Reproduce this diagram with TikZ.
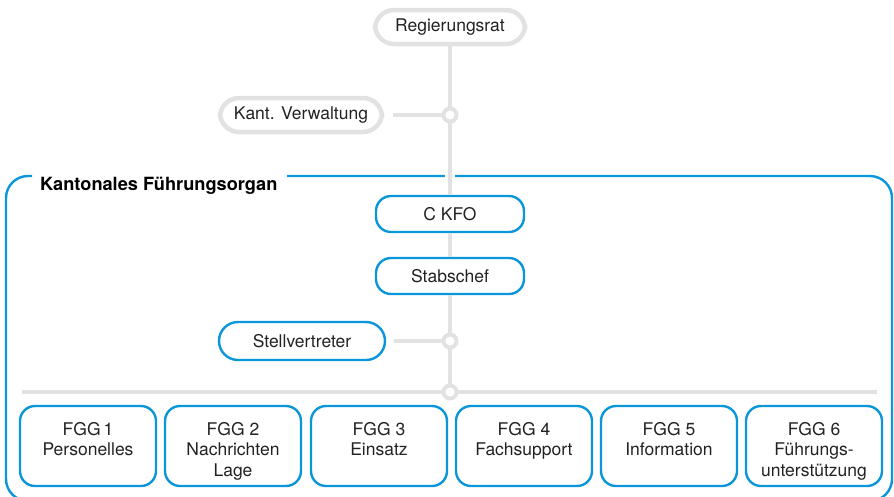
\documentclass[tikz,border=0pt]{standalone}
\usepackage{fontspec}
\setmainfont{TeX Gyre Heros}
\definecolor{kblue}{HTML}{0A96D8}
\definecolor{kgray}{HTML}{E2E2E2}
\definecolor{ktext}{HTML}{222222}
\begin{document}
\begin{tikzpicture}[x=1pt,y=-1pt,
  graypill/.style={draw=kgray,line width=4.5pt,fill=white,rounded corners=19pt,minimum height=34pt,inner sep=0pt,text=ktext,font=\fontsize{17.5}{20}\selectfont},
  bluepill/.style={draw=kblue,line width=2.4pt,fill=white,rounded corners=17pt,minimum height=36pt,inner sep=0pt,text=ktext,font=\fontsize{17.5}{20}\selectfont},
  fggbox/.style={draw=kblue,line width=2.4pt,fill=white,rounded corners=15pt,minimum width=136pt,minimum height=80pt,inner sep=0pt},
  gline/.style={draw=kgray,line width=4.5pt},
  hub/.style={circle,draw=kgray,line width=4pt,fill=white,minimum size=13pt,inner sep=0pt},
  title/.style={font=\bfseries\fontsize{18.2}{20}\selectfont,text=black,inner sep=0pt,anchor=west},
  fggtext/.style={anchor=north,align=center,text=ktext,inner sep=0pt,font=\fontsize{17.5}{20.5}\selectfont}]
\useasboundingbox (0,0) rectangle (894,496);
% frame
\draw[kblue,line width=2.4pt,rounded corners=22pt] (32,176) -- (6,176) -- (6,501) -- (892,501) -- (892,176) -- (287,176);
\node[title] (kfo) at (40,186) {Kantonales Führungsorgan};
% coordinates
\coordinate (h1) at (450,115);
\coordinate (h2) at (450,341);
\coordinate (h3) at (450,392);
\coordinate (bl) at (22,392);
\coordinate (br) at (877,392);
% white gap at crossing
\draw[white,line width=10pt] (450,170) -- (450,182);
% nodes
\node[graypill,minimum width=150pt] (rr) at (450,27) {Regierungsrat};
\node[graypill,minimum width=162pt] (kv) at (301,115) {Kant. Verwaltung};
\node[bluepill,minimum width=148pt,rounded corners=15pt] (ckfo) at (450,214) {C KFO};
\node[bluepill,minimum width=148pt,rounded corners=15pt] (sc) at (450,276) {Stabschef};
\node[bluepill,minimum width=166pt,minimum height=38pt,rounded corners=19pt] (sv) at (302,341) {Stellvertreter};
% lines
\draw[gline] (rr.south) -- (h1);
\draw[gline] (h1) -- (ckfo.north);
\draw[gline] (ckfo.south) -- (sc.north);
\draw[gline] (sc.south) -- (h2) -- (h3);
\draw[gline] ([xshift=9pt]kv.east) -- (h1);
\draw[gline] ([xshift=8pt]sv.east) -- (h2);
\draw[gline] (bl) -- (br);
\node[hub] (c1) at (h1) {};
\node[hub] (c2) at (h2) {};
\node[hub] (c3) at (h3) {};
% FGG boxes
\node[fggbox] (f1) at (88,446) {};
\node[fggbox] (f2) at (233,446) {};
\node[fggbox] (f3) at (379,446) {};
\node[fggbox] (f4) at (524,446) {};
\node[fggbox] (f5) at (669,446) {};
\node[fggbox] (f6) at (814,446) {};
\node[fggtext] (t1) at (88,422) {FGG\,1\\Personelles};
\node[fggtext] (t2) at (233,422) {FGG 2\\Nachrichten\\Lage};
\node[fggtext] (t3) at (379,422) {FGG 3\\Einsatz};
\node[fggtext] (t4) at (524,422) {FGG 4\\Fachsupport};
\node[fggtext] (t5) at (669,422) {FGG 5\\Information};
\node[fggtext] (t6) at (814,422) {FGG 6\\Führungs-\\unterstützung};
\end{tikzpicture}
\end{document}
